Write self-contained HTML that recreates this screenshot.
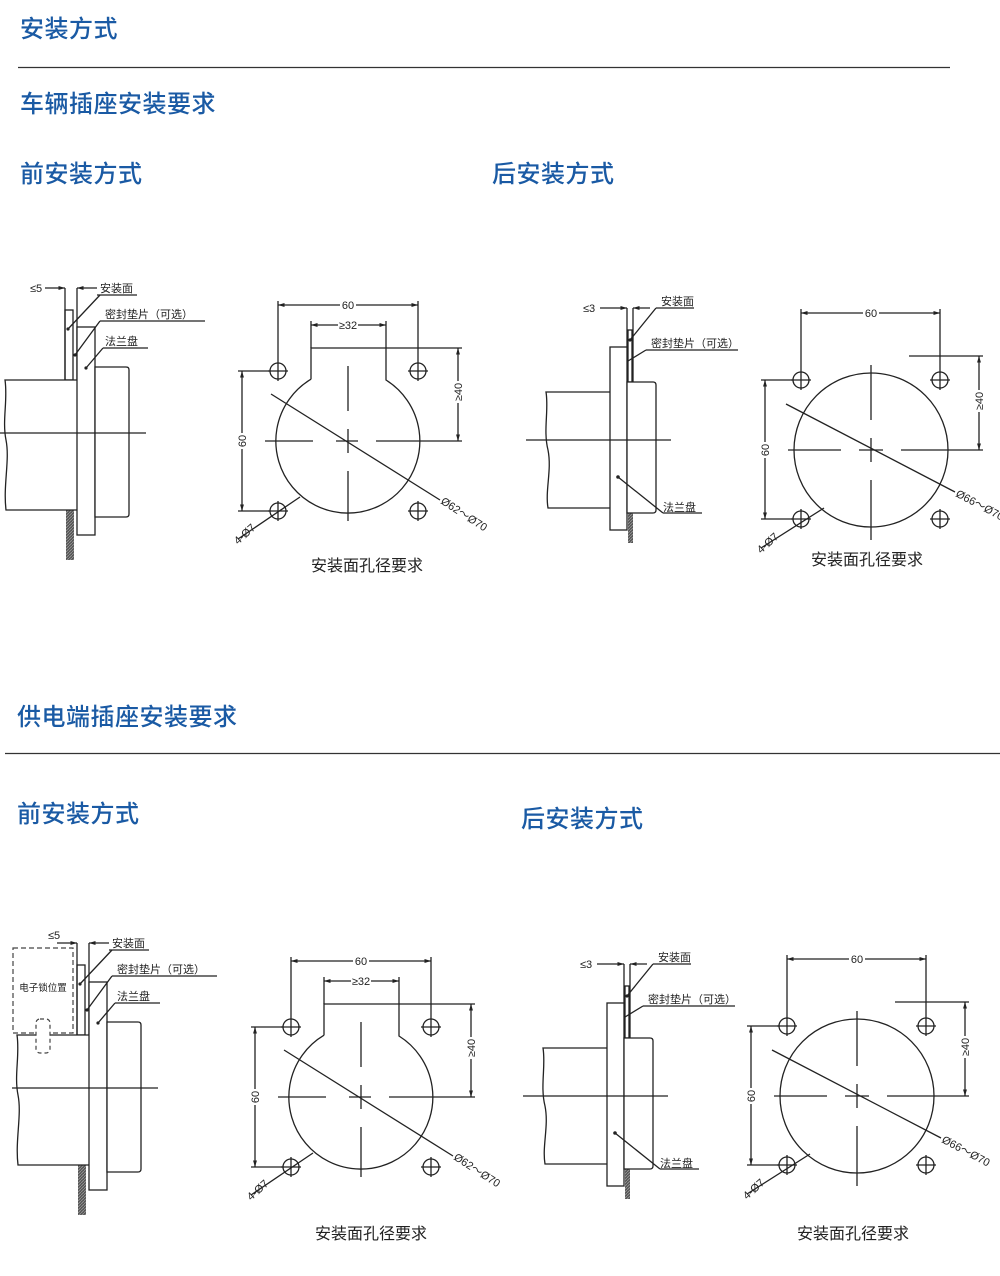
<!DOCTYPE html>
<html><head><meta charset="utf-8"><style>
html,body{margin:0;padding:0;background:#fff;}
svg{display:block;}
.h{font-family:"Liberation Sans","Noto Sans CJK SC",sans-serif;fill:#1a5aa4;font-size:24px;font-weight:500;letter-spacing:0.5px;}
.t{font-family:"Liberation Sans","Noto Sans CJK SC",sans-serif;fill:#222;font-size:11px;}
.c{font-family:"Liberation Sans","Noto Sans CJK SC",sans-serif;fill:#222;font-size:16px;}
.l{stroke:#222;stroke-width:1.3;fill:none;}
.f{stroke:#222;stroke-width:1.3;fill:#fff;}
</style></head><body>
<svg width="1000" height="1276" viewBox="0 0 1000 1276" xmlns="http://www.w3.org/2000/svg">
<defs>
<marker id="a" viewBox="0 0 10 10" refX="10" refY="5" markerWidth="7" markerHeight="5" orient="auto-start-reverse"><path d="M0 2L10 5L0 8z" fill="#222"/></marker>
<pattern id="hat" width="3" height="3" patternUnits="userSpaceOnUse"><rect width="3" height="3" fill="#555"/><path d="M0 3L3 0" stroke="#999" stroke-width="0.8"/></pattern>

<g id="holeA">
 <path class="l" d="M-37 -61.8 L-37 -93 L38 -93 L38 -61 A72 72 0 1 1 -37 -61.8"/>
 <line class="l" x1="38" y1="-93" x2="114" y2="-93"/>
 <g class="l"><circle cx="-70" cy="-70" r="8"/><circle cx="70" cy="-70" r="8"/><circle cx="-70" cy="70" r="8"/><circle cx="70" cy="70" r="8"/>
 <path d="M-80 -70H-60M-70 -80V-60M60 -70H80M70 -80V-60M-80 70H-60M-70 60V80M60 70H80M70 60V80"/></g>
 <line class="l" x1="-70" y1="-80" x2="-70" y2="-140"/><line class="l" x1="70" y1="-80" x2="70" y2="-140"/>
 <line class="l" x1="-70" y1="-136" x2="70" y2="-136" marker-start="url(#a)" marker-end="url(#a)"/>
 <rect x="-8" y="-142" width="16" height="10" fill="#fff"/><text class="t" x="0" y="-132" text-anchor="middle">60</text>
 <line class="l" x1="-37" y1="-93" x2="-37" y2="-120"/><line class="l" x1="38" y1="-93" x2="38" y2="-120"/>
 <line class="l" x1="-37" y1="-116" x2="38" y2="-116" marker-start="url(#a)" marker-end="url(#a)"/>
 <rect x="-10" y="-122" width="20" height="10" fill="#fff"/><text class="t" x="0" y="-112" text-anchor="middle">≥32</text>
 <line class="l" x1="110" y1="-93" x2="110" y2="0" marker-start="url(#a)" marker-end="url(#a)"/>
 <rect x="105" y="-60" width="10" height="22" fill="#fff"/><text class="t" transform="translate(114,-49) rotate(-90)" text-anchor="middle">≥40</text>
 <line class="l" x1="-78" y1="-70" x2="-110" y2="-70"/><line class="l" x1="-78" y1="70" x2="-110" y2="70"/>
 <line class="l" x1="-106" y1="-70" x2="-106" y2="70" marker-start="url(#a)" marker-end="url(#a)"/>
 <rect x="-111" y="-8" width="10" height="16" fill="#fff"/><text class="t" transform="translate(-102,0) rotate(-90)" text-anchor="middle">60</text>
 <path class="l" d="M-83 0H-35M-12 0H10M28 0H114M0 -75V-30M0 -12V12M0 30V80"/>
 <line class="l" x1="-77" y1="-47" x2="92" y2="59"/>
 <text class="t" transform="translate(92,62) rotate(33)">Ø62～Ø70</text>
 <line class="l" x1="-48" y1="56" x2="-110" y2="98"/>
 <text class="t" transform="translate(-110,104) rotate(-42)">4-Ø7</text>
</g>

<g id="holeB">
 <circle class="l" cx="0" cy="0" r="77"/>
 <g class="l"><circle cx="-70" cy="-70" r="8"/><circle cx="69" cy="-70" r="8"/><circle cx="-70" cy="69" r="8"/><circle cx="69" cy="69" r="8"/>
 <path d="M-80 -70H-60M-70 -80V-60M59 -70H79M69 -80V-60M-80 69H-60M-70 59V79M59 69H79M69 59V79"/></g>
 <line class="l" x1="-70" y1="-80" x2="-70" y2="-141"/><line class="l" x1="69" y1="-80" x2="69" y2="-141"/>
 <line class="l" x1="-70" y1="-137" x2="69" y2="-137" marker-start="url(#a)" marker-end="url(#a)"/>
 <rect x="-8" y="-143" width="16" height="10" fill="#fff"/><text class="t" x="0" y="-133" text-anchor="middle">60</text>
 <line class="l" x1="38" y1="-94" x2="112" y2="-94"/>
 <line class="l" x1="108" y1="-94" x2="108" y2="0" marker-start="url(#a)" marker-end="url(#a)"/>
 <rect x="103" y="-60" width="10" height="22" fill="#fff"/><text class="t" transform="translate(112,-49) rotate(-90)" text-anchor="middle">≥40</text>
 <line class="l" x1="-78" y1="-70" x2="-110" y2="-70"/><line class="l" x1="-78" y1="69" x2="-110" y2="69"/>
 <line class="l" x1="-106" y1="-70" x2="-106" y2="69" marker-start="url(#a)" marker-end="url(#a)"/>
 <rect x="-111" y="-8" width="10" height="16" fill="#fff"/><text class="t" transform="translate(-102,0) rotate(-90)" text-anchor="middle">60</text>
 <path class="l" d="M-83 0H-30M-12 0H12M30 0H112M0 -85V-30M0 -12V12M0 30V90"/>
 <line class="l" x1="-85" y1="-46" x2="84" y2="42"/>
 <text class="t" transform="translate(84,46) rotate(28)">Ø66～Ø70</text>
 <line class="l" x1="-47" y1="58" x2="-110" y2="98"/>
 <text class="t" transform="translate(-110,104) rotate(-42)">4-Ø7</text>
</g>

<g id="rear">
 <rect x="628" y="513" width="5" height="30" fill="url(#hat)"/>
 <path class="l" d="M627 308V382M633 308V382"/>
 <rect class="l" x="628" y="330" width="4" height="52"/>
 <path class="f" d="M610 392H546C549 410 543 430 548 450C552 470 545 490 548 508H610"/>
 <rect class="f" x="610" y="347" width="17" height="183"/>
 <path class="f" d="M627 382H653Q656 382 656 385V510Q656 513 653 513H627Z"/>
 <line class="l" x1="526" y1="440" x2="671" y2="440"/>
 <line class="l" x1="600" y1="308" x2="627" y2="308" marker-end="url(#a)"/>
 <line class="l" x1="650" y1="308" x2="633" y2="308" marker-end="url(#a)"/>
 <text class="t" x="583" y="312">≤3</text>
 <text class="t" x="661" y="305">安装面</text><line class="l" x1="656" y1="308" x2="694" y2="308"/>
 <line class="l" x1="630" y1="340" x2="656" y2="308"/><circle cx="630" cy="340" r="1.6" fill="#222"/>
 <text class="t" x="651" y="347">密封垫片（可选）</text><line class="l" x1="646" y1="350" x2="738" y2="350"/>
 <line class="l" x1="628" y1="361" x2="646" y2="350"/>
 <text class="t" x="663" y="511">法兰盘</text><line class="l" x1="663" y1="513" x2="702" y2="513"/>
 <line class="l" x1="618" y1="477" x2="663" y2="513"/><circle cx="618" cy="477" r="1.8" fill="#222"/>
</g>

<g id="front">
 <rect x="66" y="510" width="8" height="50" fill="url(#hat)"/>
 <path class="l" d="M65 288V380M77 288V380"/>
 <rect class="l" x="65" y="310" width="8" height="70"/>
 <path class="f" d="M77 380H5C8 400 2 420 6 440C10 460 3 485 6 510H77"/>
 <rect class="f" x="77" y="327" width="18" height="208"/>
 <path class="f" d="M95 367H126Q129 367 129 370V514Q129 517 126 517H95Z"/>
 <line class="l" x1="0" y1="433" x2="146" y2="433"/>
 <line class="l" x1="45" y1="288" x2="65" y2="288" marker-end="url(#a)"/>
 <line class="l" x1="97" y1="288" x2="77" y2="288" marker-end="url(#a)"/>
 <text class="t" x="100" y="292">安装面</text><line class="l" x1="97" y1="295" x2="137" y2="295"/>
 <line class="l" x1="68" y1="329" x2="100" y2="295"/><circle cx="68" cy="329" r="1.6" fill="#222"/>
 <text class="t" x="105" y="318">密封垫片（可选）</text><line class="l" x1="100" y1="321" x2="205" y2="321"/>
 <line class="l" x1="75" y1="355" x2="100" y2="321"/><circle cx="75" cy="355" r="1.6" fill="#222"/>
 <text class="t" x="105" y="345">法兰盘</text><line class="l" x1="103" y1="348" x2="148" y2="348"/>
 <line class="l" x1="86" y1="368" x2="103" y2="348"/><circle cx="86" cy="368" r="1.6" fill="#222"/>
</g>
</defs>

<text class="h" x="20" y="37">安装方式</text>
<line x1="18" y1="67.5" x2="950" y2="67.5" stroke="#333" stroke-width="1.2"/>
<text class="h" x="20" y="112">车辆插座安装要求</text>
<text class="h" x="20" y="182">前安装方式</text>
<text class="h" x="492" y="182">后安装方式</text>

<use href="#front"/>
<text class="t" x="30" y="292">≤5</text>
<use href="#holeA" x="348" y="441"/>
<text class="c" x="367" y="571" text-anchor="middle">安装面孔径要求</text>

<use href="#rear"/>
<use href="#holeB" x="871" y="450"/>
<text class="c" x="867" y="565" text-anchor="middle">安装面孔径要求</text>

<text class="h" x="17" y="725">供电端插座安装要求</text>
<line x1="5" y1="753.5" x2="1000" y2="753.5" stroke="#333" stroke-width="1.2"/>
<text class="h" x="17" y="822">前安装方式</text>
<text class="h" x="521" y="827">后安装方式</text>

<g transform="translate(12,655)"><use href="#front"/></g>
<text class="t" x="48" y="939">≤5</text>
<rect x="13" y="948" width="60" height="85" fill="#fff" stroke="#444" stroke-width="1.2" stroke-dasharray="5,3"/>
<text class="t" x="43" y="991" text-anchor="middle" style="font-size:9.5px">电子锁位置</text>
<rect x="36" y="1019" width="14" height="34" rx="4" fill="#fff" stroke="#444" stroke-width="1.2" stroke-dasharray="4,3"/>
<use href="#holeA" x="361" y="1097"/>
<text class="c" x="371" y="1239" text-anchor="middle">安装面孔径要求</text>

<g transform="translate(-3,656)"><use href="#rear"/></g>
<use href="#holeB" x="857" y="1096"/>
<text class="c" x="853" y="1239" text-anchor="middle">安装面孔径要求</text>
</svg>
</body></html>
